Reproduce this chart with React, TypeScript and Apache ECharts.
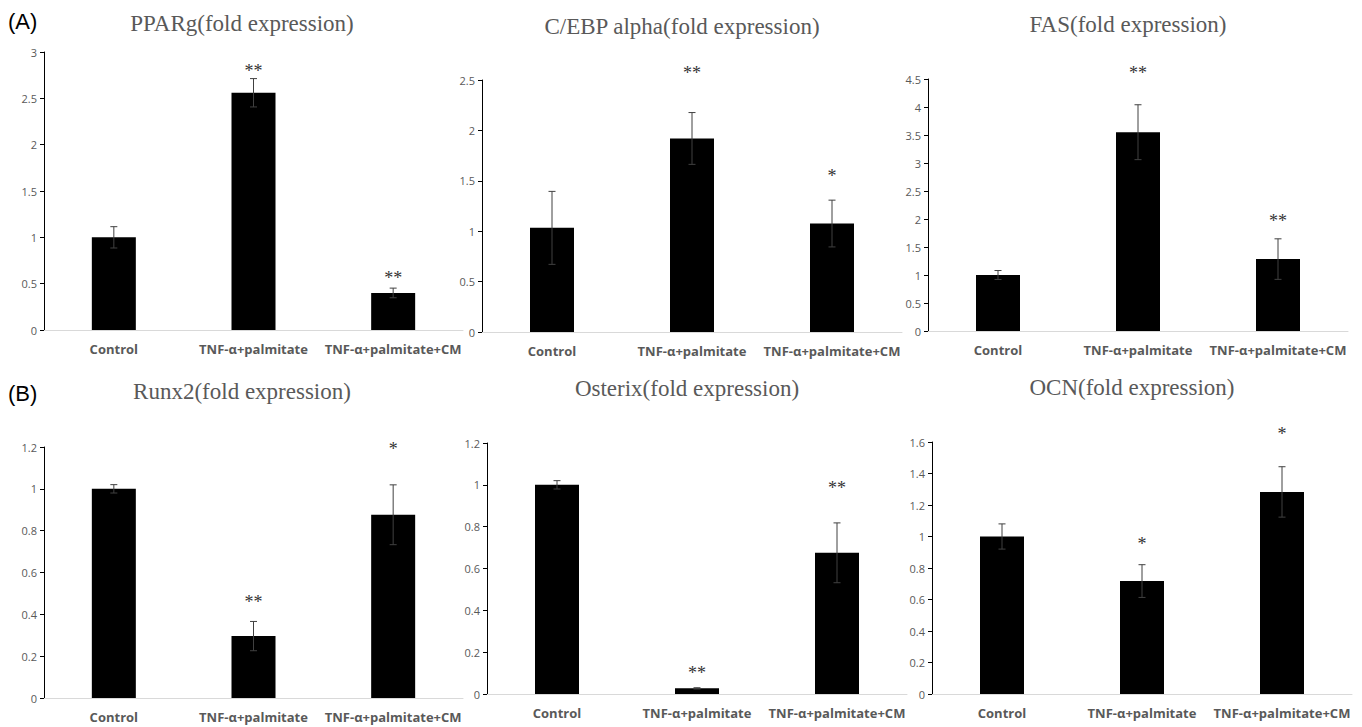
import React, { useEffect, useRef } from "react";
import * as echarts from "echarts";

const categories = ["Control", "TNF-α+palmitate", "TNF-α+palmitate+CM"];

const ppargValues = [1.0, 2.56, 0.4];
const ppargErrors = [0.115, 0.153, 0.052];
const ppargStars = ["", "**", "**"];
const ppargStarY = [0, 2.82, 0.58];

const cebpValues = [1.033, 1.92, 1.076];
const cebpErrors = [0.362, 0.257, 0.232];
const cebpStars = ["", "**", "*"];
const cebpStarY = [0, 2.59, 1.566];

const fasValues = [1.0, 3.55, 1.284];
const fasErrors = [0.08, 0.49, 0.362];
const fasStars = ["", "**", "**"];
const fasStarY = [0, 4.64, 2.0];

const runx2Values = [1.0, 0.296, 0.876];
const runx2Errors = [0.02, 0.07, 0.143];
const runx2Stars = ["", "**", "*"];
const runx2StarY = [0, 0.467, 1.2];

const osterixValues = [1.0, 0.027, 0.675];
const osterixErrors = [0.02, 0.003, 0.143];
const osterixStars = ["", "**", "**"];
const osterixStarY = [0, 0.108, 0.996];

const ocnValues = [1.0, 0.717, 1.283];
const ocnErrors = [0.08, 0.104, 0.16];
const ocnStars = ["", "*", "*"];
const ocnStarY = [0, 0.963, 1.665];

const titles = [
  "PPARg(fold expression)",
  "C/EBP alpha(fold expression)",
  "FAS(fold expression)",
  "Runx2(fold expression)",
  "Osterix(fold expression)",
  "OCN(fold expression)",
];
const yMax = [3, 2.5, 4.5, 1.2, 1.2, 1.6];
const yInterval = [0.5, 0.5, 0.5, 0.2, 0.2, 0.2];

const panels = [
  { values: ppargValues, errors: ppargErrors, stars: ppargStars, starY: ppargStarY, grid: { left: 44, top: 52, width: 419, height: 278 }, titleXY: [242, 23] },
  { values: cebpValues, errors: cebpErrors, stars: cebpStars, starY: cebpStarY, grid: { left: 482, top: 80, width: 420, height: 252 }, titleXY: [682, 26] },
  { values: fasValues, errors: fasErrors, stars: fasStars, starY: fasStarY, grid: { left: 928, top: 79, width: 420, height: 252 }, titleXY: [1128, 24] },
  { values: runx2Values, errors: runx2Errors, stars: runx2Stars, starY: runx2StarY, grid: { left: 44, top: 447, width: 419, height: 251 }, titleXY: [242, 391] },
  { values: osterixValues, errors: osterixErrors, stars: osterixStars, starY: osterixStarY, grid: { left: 487, top: 443, width: 420, height: 251 }, titleXY: [687, 388] },
  { values: ocnValues, errors: ocnErrors, stars: ocnStars, starY: ocnStarY, grid: { left: 932, top: 442, width: 420, height: 252 }, titleXY: [1132, 387] },
];

export default function App() {
  const ref = useRef<HTMLDivElement>(null);
  useEffect(() => {
    document.body.style.margin = "0";
    if (!ref.current) return;
    const chart = echarts.init(ref.current, null, { renderer: "svg" });

    const grids: any[] = [];
    const xAxes: any[] = [];
    const yAxes: any[] = [];
    const series: any[] = [];
    const graphics: any[] = [];

    panels.forEach((p, i) => {
      grids.push({ ...p.grid, containLabel: false });
      xAxes.push({
        type: "category",
        gridIndex: i,
        data: categories,
        axisTick: { show: false },
        axisLine: { lineStyle: { color: "#d9d9d9", width: 1 } },
        axisLabel: {
          color: "#595959",
          fontFamily: "Open Sans",
          fontWeight: "bold",
          fontSize: 13,
          margin: 12,
          interval: 0,
        },
      });
      yAxes.push({
        type: "value",
        gridIndex: i,
        min: 0,
        max: yMax[i],
        interval: yInterval[i],
        splitLine: { show: false },
        axisLine: { show: true, lineStyle: { color: "#000000", width: 1 } },
        axisTick: { show: true, length: 4, lineStyle: { color: "#000000" } },
        axisLabel: { color: "#595959", fontFamily: "Open Sans", fontSize: 11, margin: 7 },
      });
      series.push({
        type: "bar",
        xAxisIndex: i,
        yAxisIndex: i,
        data: p.values,
        barWidth: 44,
        itemStyle: { color: "#000000" },
        z: 2,
      });
      series.push({
        type: "custom",
        xAxisIndex: i,
        yAxisIndex: i,
        data: p.values.map((v, j) => [j, v - p.errors[j], v + p.errors[j]]),
        encode: { x: 0, y: [1, 2] },
        z: 3,
        renderItem: (params: any, api: any) => {
          const x = api.value(0);
          const lo = api.coord([x, api.value(1)]);
          const hi = api.coord([x, api.value(2)]);
          const hw = 3.5;
          const st = { stroke: "#404040", lineWidth: 1 };
          return {
            type: "group",
            children: [
              { type: "line", shape: { x1: hi[0], y1: hi[1], x2: lo[0], y2: lo[1] }, style: st },
              { type: "line", shape: { x1: hi[0] - hw, y1: hi[1], x2: hi[0] + hw, y2: hi[1] }, style: st },
              { type: "line", shape: { x1: lo[0] - hw, y1: lo[1], x2: lo[0] + hw, y2: lo[1] }, style: st },
            ],
          };
        },
      });
      const idx = p.stars.map((s, j) => (s ? j : -1)).filter((j) => j >= 0);
      series.push({
        type: "custom",
        xAxisIndex: i,
        yAxisIndex: i,
        clip: false,
        data: idx.map((j) => [j, p.starY[j]]),
        encode: { x: 0, y: 1 },
        z: 4,
        renderItem: (params: any, api: any) => {
          const pt = api.coord([api.value(0), api.value(1)]);
          const j = idx[params.dataIndex];
          return {
            type: "text",
            x: pt[0],
            y: pt[1] + 2,
            style: {
              text: p.stars[j],
              fill: "#333333",
              font: "18px 'Liberation Serif'",
              align: "center",
              verticalAlign: "middle",
            },
          };
        },
      });
      graphics.push({
        type: "text",
        x: p.titleXY[0],
        y: p.titleXY[1],
        style: {
          text: titles[i],
          fill: "#595959",
          font: "23px 'Liberation Serif'",
          align: "center",
          verticalAlign: "middle",
        },
      });
    });

    graphics.push({
      type: "text",
      x: 8,
      y: 21,
      style: { text: "(A)", fill: "#000000", font: "22px 'Liberation Sans'", align: "left", verticalAlign: "middle" },
    });
    graphics.push({
      type: "text",
      x: 8,
      y: 393,
      style: { text: "(B)", fill: "#000000", font: "22px 'Liberation Sans'", align: "left", verticalAlign: "middle" },
    });

    chart.setOption({
      animation: false,
      backgroundColor: "#ffffff",
      grid: grids,
      xAxis: xAxes,
      yAxis: yAxes,
      series,
      graphic: graphics,
    });
    return () => chart.dispose();
  }, []);
  return <div ref={ref} style={{ width: 1362, height: 727 }} />;
}
